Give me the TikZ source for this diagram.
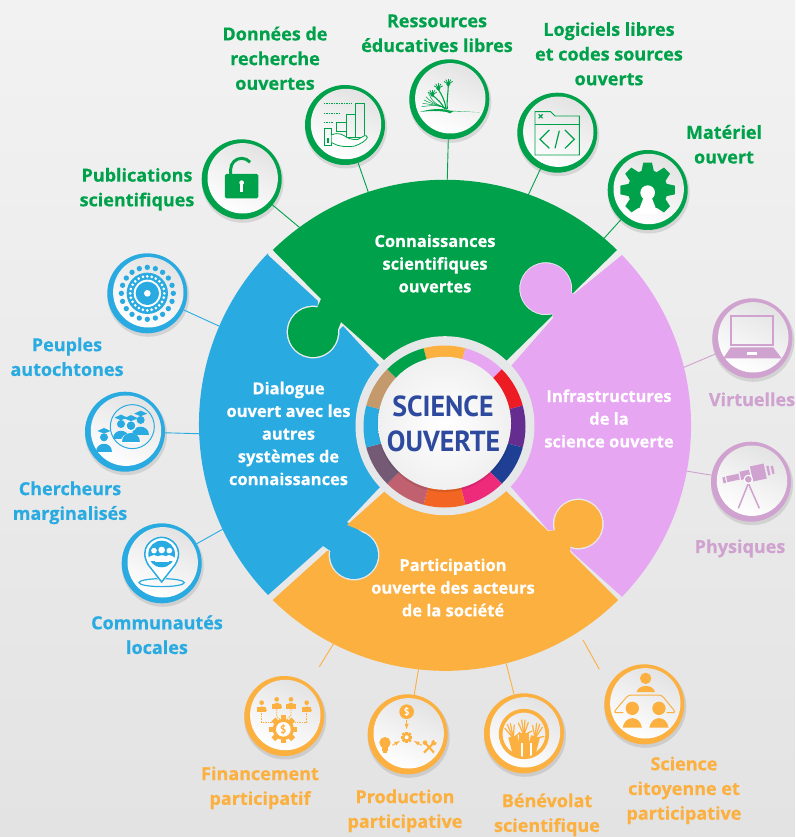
\documentclass[tikz,border=0pt]{standalone}
\usepackage{graphicx}
\usepackage{fontspec}
\setmainfont{Open Sans}[BoldFeatures={FakeBold=0.5}]
\newfontfamily\hubfont{PT Sans}
\usetikzlibrary{calc}
\definecolor{gG}{HTML}{00A14B}
\definecolor{gB}{HTML}{29ABE2}
\definecolor{gO}{HTML}{FBB040}
\definecolor{gP}{HTML}{E6A6F2}
\definecolor{gM}{HTML}{CFA2CF}
\definecolor{hubgray}{HTML}{E6E7E8}
\definecolor{navy}{HTML}{2E4A9E}
\definecolor{r1}{HTML}{ED1C24}
\definecolor{r2}{HTML}{662D91}
\definecolor{r3}{HTML}{1F3F94}
\definecolor{r4}{HTML}{EE2A7B}
\definecolor{r5}{HTML}{F26522}
\definecolor{r6}{HTML}{C1606E}
\definecolor{r7}{HTML}{755A75}
\definecolor{r8}{HTML}{C49A6C}
\tikzset{
  lab/.style={font=\bfseries\fontsize{18}{24.7}\selectfont,align=center,inner sep=0pt,yshift=-0.3pt},
  wlab/.style={font=\bfseries\fontsize{16.5}{22.7}\selectfont,align=center,inner sep=0pt,text=white},
  conn/.style={line width=0.9pt},
  piece/.style={draw=none},
  zA/.style={shift={(190,50)},x=0.3333pt,y=-0.3333pt},
  zB/.style={shift={(500,80)},x=0.3333pt,y=-0.3333pt},
  zC/.style={shift={(70,240)},x=0.3333pt,y=-0.3333pt},
  zD/.style={shift={(230,660)},x=0.3333pt,y=-0.3333pt},
  zE/.style={shift={(690,290)},x=0.3333pt,y=-0.3333pt},
  btnbase/.style={circle,minimum size=80pt,inner sep=0pt,outer sep=0pt}
}
\newcommand\btn[4]{%
  \fill[black,opacity=.10] ({#2+1},{#3+2.5}) circle (41);
  \node[btnbase,fill=#4] (#1) at (#2,#3) {};
  \shade[shading=axis,top color=black!11,bottom color=white,shading angle=-25] ({#2+1},{#3-1}) circle (35.2);
}
\newcommand\psn[4]{%
  \fill[#4] (#1,#2) circle (#3);
  \fill[#4] ({#1-2.1*#3},{#2+3.7*#3}) .. controls ({#1-2.1*#3},{#2+0.9*#3}) and ({#1+2.1*#3},{#2+0.9*#3}) .. ({#1+2.1*#3},{#2+3.7*#3}) -- cycle;
}
\newcommand\mcap[4]{%
  \fill[#4] ({#1-1.5*#3},{#2-1*#3}) -- (#1,{#2-1.7*#3}) -- ({#1+1.5*#3},{#2-1*#3}) -- (#1,{#2-.4*#3}) -- cycle;
}
\begin{document}
\begin{tikzpicture}[x=1pt,y=-1pt]
\useasboundingbox (0,0) rectangle (795,837);
\shade[top color=white!95!black,bottom color=white!89!black] (0,0) rectangle (795,837);

% buttons
\btn{pub}{241.7}{179.3}{gG}
\btn{don}{345}{125}{gG}
\btn{res}{449.3}{99.3}{gG}
\btn{log}{557.3}{132.7}{gG}
\btn{mat}{647.7}{190}{gG}
\btn{peu}{147.3}{293.3}{gB}
\btn{che}{125}{431.7}{gB}
\btn{com}{161.7}{563.3}{gB}
\btn{fin}{284.3}{716}{gO}
\btn{pro}{407.7}{734.3}{gO}
\btn{ben}{524}{733.3}{gO}
\btn{sci}{644.3}{704.3}{gO}
\btn{vir}{752.3}{338.3}{gM}
\btn{phy}{751}{481.7}{gM}

% connectors
\coordinate (e1) at (305,232);
\coordinate (e2) at (371,200);
\coordinate (e3) at (447,190);
\coordinate (e4) at (525,202);
\coordinate (e5) at (598,245);
\coordinate (e6) at (232,332);
\coordinate (e7) at (210,434);
\coordinate (e8) at (232,524);
\coordinate (e9a) at (319.3,666.7);
\coordinate (e9b) at (334,643);
\coordinate (e10) at (420,660);
\coordinate (e11) at (504,655);
\coordinate (e12a) at (599.3,669.3);
\coordinate (e12b) at (583,640);
\coordinate (e13) at (680,369);
\coordinate (e14) at (680,470);
\draw[conn,gG] (pub) -- (e1);
\draw[conn,gG] (don) -- (e2);
\draw[conn,gG] (res) -- (e3);
\draw[conn,gG] (log) -- (e4);
\draw[conn,gG] (mat) -- (e5);
\draw[conn,gB] (peu) -- (e6);
\draw[conn,gB] (che) -- (e7);
\draw[conn,gB] (com) -- (e8);
\draw[conn,gO] (e9a) -- (e9b);
\draw[conn,gO] (pro) -- (e10);
\draw[conn,gO] (ben) -- (e11);
\draw[conn,gO] (e12a) -- (e12b);
\draw[conn,gM] (vir) -- (e13);
\draw[conn,gM] (phy) -- (e14);

% puzzle pieces
\coordinate (CC) at (445,425.5);
\coordinate (C1) at (313,332);
\coordinate (C2) at (354,555);
\coordinate (C3) at (545.7,288.7);
\coordinate (C4) at (578.3,524);
% blue
\fill[gB,piece] (268,255) -- (318,301) -- ($(C1)+(-80:26.5)$) arc (-80:-365:26.5) -- (343,326) -- (379,365) -- (CC) -- (379,488) -- (347,522) -- ($(C2)+(-70:24)$) arc (-70:190:24) -- (323,546) -- (268,595) arc (136:224:246) -- cycle;
% green
\fill[gG,piece] (617,250) arc (-45.6:-134.4:246) -- (321,299) -- ($(C1)+(-80:25)$) arc (-80:-365:25) -- (341,322) -- (384,360) -- (CC) -- (507,360) -- (552,316) -- ($(C3)+(75:26.5)$) arc (75:370:26.5) -- (573,293) -- cycle;
% pink
\fill[gP,piece] (512,365) -- (553,318) -- ($(C3)+(75:25.5)$) arc (75:370:25.5) -- (574,294) -- (622,255) arc (-44:44:246) -- (572,552) -- ($(C4)+(110:25.5)$) arc (110:-195:25.5) -- (548,530) -- (512,488) -- (CC) -- cycle;
% orange
\fill[gO,piece] (384,492) -- (347,525) -- ($(C2)+(-75:25.5)$) arc (-75:190:25.5) -- (327,551) -- (272.7,600) arc (134.6:45.4:246) -- (570,552) -- ($(C4)+(110:24)$) arc (110:-195:24) -- (548,531) -- (507,492) -- (CC) -- cycle;

% hub
\fill[hubgray] (445,425.7) circle (89.5);
\coordinate (RR) at (444.5,426.5);
\foreach \a/\cc in {-105/gO,-75/gP,-45/r1,-15/r2,15/r3,45/r4,75/r5,105/r6,135/r7,165/gB,195/r8,225/gG}{
  \fill[\cc] ($(RR)+(\a:81)$) arc (\a:\a+30:81) -- ($(RR)+(\a+30:60)$) arc (\a+30:\a:60) -- cycle;
}
\fill[black,opacity=.10] (444.5,425) circle (67);
\shade[shading=radial,inner color=white,outer color=black!6] (444.5,423.3) circle (66.5);
\node[inner sep=0pt,text=navy,font=\hubfont\bfseries\fontsize{29}{35}\selectfont] (hub1) at (443,406.5) {\scalebox{.96}[1]{SCIENCE}};
\node[inner sep=0pt,text=navy,font=\hubfont\bfseries\fontsize{29}{35}\selectfont] (hub2) at (443.5,441.5) {\scalebox{.96}[1]{OUVERTE}};

% piece labels
\node[wlab] (t1) at (435,263.5) {Connaissances\\scientifiques\\ouvertes};
\node[wlab] (t2) at (288.5,433.5) {Dialogue\\ouvert avec les\\autres\\systèmes de\\connaissances};
\node[wlab] (t3) at (609,418.5) {Infrastructures\\de la\\science ouverte};
\node[wlab] (t4) at (453,587.5) {Participation\\ouverte des acteurs\\de la société};

% outer labels
\node[lab,text=gG] (l1) at (137,189) {Publications\\scientifiques};
\node[lab,text=gG] (l2) at (275,58) {Données de\\recherche\\ouvertes};
\node[lab,text=gG] (l3) at (437,33) {Ressources\\éducatives libres};
\node[lab,text=gG] (l4) at (609,53.5) {Logiciels libres\\et codes sources\\ouverts};
\node[lab,text=gG] (l5) at (724,144) {Matériel\\ouvert};
\node[lab,text=gB] (l6) at (67,356.5) {Peuples\\autochtones};
\node[lab,text=gB] (l7) at (70,502.5) {Chercheurs\\marginalisés};
\node[lab,text=gB] (l8) at (157,634.5) {Communautés\\locales};
\node[lab,text=gO] (l9) at (260,787.5) {Financement\\participatif};
\node[lab,text=gO] (l10) at (405,810.5) {Production\\participative};
\node[lab,text=gO] (l11) at (547,814.5) {Bénévolat\\scientifique};
\node[lab,text=gO] (l12) at (684,790) {Science\\citoyenne et\\participative};
\node[lab,text=gM] (l13) at (752,399) {Virtuelles};
\node[lab,text=gM] (l14) at (740,548) {Physiques};

% ICON lock
\begin{scope}[zA]
\fill[gG,rounded corners=1.5pt] (105,372) rectangle (205,445);
\draw[gG,line width=3pt] (122,375) -- (122,358) arc (180:320:33);
\fill[white] (155,398) circle (7);
\fill[white] (151,398) rectangle (159,425);
\end{scope}
% ICON chart hand
\begin{scope}[zA,gG,line width=.8pt]
\draw (497,160) rectangle (523,262);
\draw (468,192) rectangle (497,262);
\draw (438,218) rectangle (468,245);
\draw[dash pattern=on 1.5pt off 1pt] (402,160) -- (485,160);
\draw[dash pattern=on 1.5pt off 1pt] (402,190) -- (452,190);
\draw[dash pattern=on 1.5pt off 1pt] (402,218) -- (430,218);
\draw (403,235) rectangle (425,287);
\fill (410,265) rectangle (416,280);
\filldraw[fill=white] (425,255) .. controls (445,245) and (460,255) .. (470,262) .. controls (480,268) and (495,270) .. (505,268) .. controls (515,262) and (530,250) .. (532,262) .. controls (530,272) and (510,282) .. (495,288) .. controls (470,292) and (445,290) .. (425,278);
\end{scope}
% ICON book hands
\begin{scope}[zA,gG]
\fill (690,186) .. controls (720,176) and (750,176) .. (770,179) -- (780,182) -- (870,187) -- (790,184) -- (780,190) -- (770,186) .. controls (745,182) and (720,182) .. (690,186) -- cycle;
\foreach \e/\f in {695/170,698/160,702/150,708/140,716/130}{
  \draw[line width=.5pt] (770,177) .. controls (750,165) and (730,165) .. (\e,\f);
}
\draw[line width=1.1pt] (772,177) .. controls (770,150) and (775,125) .. (775,105);
\draw[line width=1.1pt] (768,177) .. controls (765,150) and (755,135) .. (745,118);
\draw[line width=1.1pt] (764,177) .. controls (755,160) and (745,148) .. (725,135);
\foreach \px/\py in {775/102,745/115,727/134}{
  \fill (\px,\py) circle (6);
  \foreach \a in {-150,-120,-90,-60,-30}{\draw[line width=.8pt] (\px,\py) -- ++(\a:15);}
}
\end{scope}
% ICON code window
\begin{scope}[zB,gG,line width=.9pt]
\draw (105,95) -- (152,95) -- (165,108) -- (238,108) -- (238,225) -- (105,225) -- cycle;
\draw (105,132) -- (238,132);
\draw[line width=1.1pt] (116,103) -- (128,115) (128,103) -- (116,115);
\draw[line width=1.2pt] (148,150) -- (120,178) -- (148,205);
\draw[line width=1.2pt] (195,150) -- (223,178) -- (195,205);
\draw[line width=1.2pt] (178,152) -- (165,205);
\end{scope}
% ICON gear
\begin{scope}[zB]
\fill[gG] (443,330) circle (60);
\foreach \a in {0,45,90,135,225,270,315}{
  \begin{scope}[shift={(443,330)},rotate=\a]
  \fill[gG] (-13,-82) -- (13,-82) -- (20,-50) -- (-20,-50) -- cycle;
  \end{scope}
}
\fill[white] (443,338) circle (22);
\fill[white] (431,352) -- (455,352) -- (474,402) -- (412,402) -- cycle;
\end{scope}
% ICON peuples
\begin{scope}[zC]
\foreach \a in {0,18,...,342}{\fill[gB] ($(232,160)+(\a:78)$) circle (8);}
\fill[gB] (232,160) circle (62);
\foreach \a in {0,15,...,345}{\fill[white] ($(232,160)+(\a:51)$) circle (4.5);}
\fill[white] (232,160) circle (41);
\fill[gB] (232,160) circle (35);
\fill[white] (232,160) circle (10);
\end{scope}
% ICON chercheurs
\begin{scope}[zC]
\draw[gB,line width=1pt] (187,560) circle (66);
\psn{153}{552}{12}{gB}\mcap{153}{546}{13}{gB}
\psn{212}{540}{12}{gB}\mcap{212}{534}{13}{gB}
\psn{102}{592}{12}{gB}\mcap{102}{586}{13}{gB}
\fill[white] (183,557) circle (17);
\fill[white] (152,608) .. controls (152,570) and (214,570) .. (214,612) -- cycle;
\psn{183}{557}{13}{gB}\mcap{183}{549}{14}{gB}
\end{scope}
% ICON pin
\begin{scope}[zC]
\draw[gB,line width=1.2pt] (275,1028) ellipse (68 and 12);
\fill[white] (235,985) -- (275,1030) -- (315,985) -- cycle;
\draw[gB,line width=1.5pt,fill=white] (275,1026) -- (235,975) .. controls (205,925) and (245,892) .. (275,892) .. controls (305,892) and (345,925) .. (315,975) -- cycle;
\fill[gB] (275,942) circle (40);
\psn{252}{932}{8.5}{white}
\psn{298}{932}{8.5}{white}
\fill[gB] (275,930) circle (13);
\psn{275}{930}{10}{white}
\end{scope}
% ICON financement
\begin{scope}[zD]
\foreach \x/\y in {95/128,140/118,183/118,230/128}{\psn{\x}{\y}{7}{gO}
  \fill[gO] (\x-14,\y+14) rectangle (\x+14,\y+28);}
\draw[gO,line width=.8pt,dash pattern=on 1.5pt off 1pt] (95,160) -- (95,187) -- (130,187);
\draw[gO,line width=.8pt,dash pattern=on 1.5pt off 1pt] (140,148) -- (140,170) -- (150,178);
\draw[gO,line width=.8pt,dash pattern=on 1.5pt off 1pt] (183,148) -- (183,165) -- (172,178);
\draw[gO,line width=.8pt,dash pattern=on 1.5pt off 1pt] (230,160) -- (230,187) -- (195,187);
\foreach \a in {0,45,...,315}{
  \begin{scope}[shift={(160,208)},rotate=\a]
  \fill[gO] (-8,-42) rectangle (8,-28);
  \end{scope}
}
\fill[gO] (160,208) circle (32);
\fill[white] (160,208) circle (22);
\node[inner sep=0pt,text=gO,font=\hubfont\bfseries\fontsize{11}{11}\selectfont] (dlr1) at (160,208) {\$};
\end{scope}
% ICON production
\begin{scope}[zD]
\fill[gO] (530,155) circle (22);
\node[inner sep=0pt,text=white,font=\hubfont\bfseries\fontsize{10}{10}\selectfont] (dlr2) at (530,155) {\$};
\draw[gO,line width=.9pt,-latex] (530,180) -- (530,208);
\foreach \a in {0,45,...,315}{
  \begin{scope}[shift={(530,232)},rotate=\a]
  \fill[gO] (-4,-17) rectangle (4,-10);
  \end{scope}
}
\fill[gO] (530,232) circle (13);
\fill[white] (530,232) circle (6);
\draw[gO,line width=.9pt,-latex] (487,256) -- (510,243);
\draw[gO,line width=.9pt,-latex] (575,256) -- (552,243);
\fill[gO] (465,248) circle (17);
\fill[gO] (456,258) rectangle (474,272);
\fill[gO] (460,274) rectangle (470,279);
\draw[gO,line width=2pt] (582,278) -- (612,248);
\fill[gO] (612,248) circle (8);
\draw[gO,line width=2pt] (585,248) -- (612,278);
\fill[gO] (585,248) circle (7);
\fill[white] (617,243) circle (4);
\end{scope}
% ICON benevolat
\begin{scope}[zD]
\draw[gO,line width=3.7pt] (882,222) circle (70);
\begin{scope}
\clip (882,222) circle (68);
\foreach \px/\py/\r in {850/235/15,882/225/0,915/235/-15}{
  \begin{scope}[shift={(\px,\py)},rotate=\r]
  \foreach \fx/\fy in {-17/-36,-7/-45,3/-45,13/-38,24/-12}{\draw[gO,line width=1.2pt,line cap=round] (0,0) -- (\fx,\fy);}
  \fill[gO] (-14,-6) rectangle (14,70);
  \end{scope}
}
\fill[white] (874,250) rectangle (880,300);
\fill[white] (900,250) rectangle (907,300);
\end{scope}
\end{scope}
% ICON science citoyenne
\begin{scope}[zD]
\fill[gO] (1247,55) circle (17);
\fill[gO] (1220,96) .. controls (1225,72) and (1270,72) .. (1275,96) -- cycle;
\draw[gO,line width=1pt,rounded corners=3pt] (1180,158) -- (1150,158) -- (1195,105) -- (1295,105) -- (1338,158) -- (1310,158);
\fill[gO] (1207,145) circle (20);
\fill[gO] (1287,145) circle (20);
\fill[gO] (1178,203) .. controls (1185,165) and (1230,165) .. (1236,203) -- cycle;
\fill[gO] (1258,203) .. controls (1265,165) and (1310,165) .. (1316,203) -- cycle;
\end{scope}
% ICON laptop
\begin{scope}[zE]
\draw[gM,line width=1.7pt] (122,78) rectangle (250,165);
\fill[gM] (122,172) -- (250,172) -- (275,205) -- (100,205) -- cycle;
\fill[white] (172,185) rectangle (200,195);
\end{scope}
% ICON telescope
\begin{scope}[zE]
\draw[gM,line width=1.5pt] (175,580) -- (145,655);
\draw[gM,line width=1.5pt] (175,580) -- (208,655);
\begin{scope}[shift={(175,555)},rotate=12]
\fill[gM] (-78,-9) rectangle (-70,9);
\fill[gM] (-66,-10) rectangle (-28,8);
\fill[gM] (-24,-15) rectangle (5,10);
\fill[gM] (10,-24) rectangle (52,22);
\fill[gM] (58,-15) rectangle (65,14);
\fill[gM] (71,-12) rectangle (78,12);
\end{scope}
\fill[white] (175,568) circle (14);
\fill[gM] (175,568) circle (10);
\end{scope}
\end{tikzpicture}
\end{document}
